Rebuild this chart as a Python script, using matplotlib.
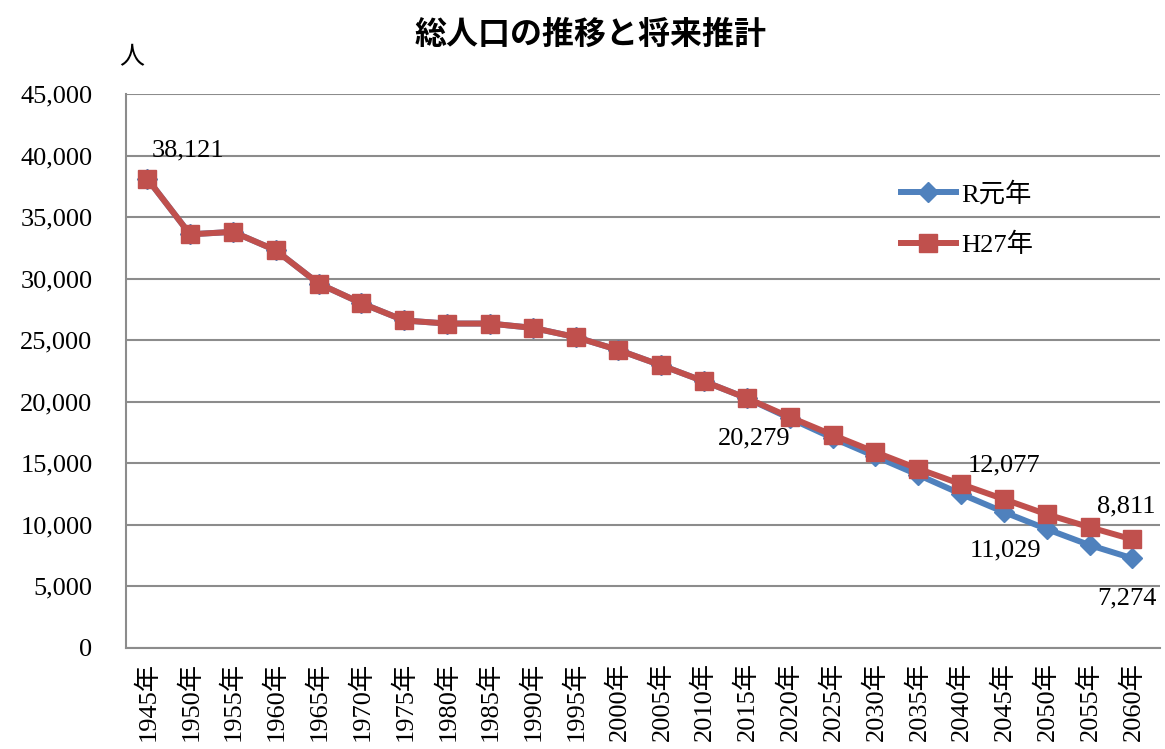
import numpy as np
import matplotlib.pyplot as plt

# data
years = ['1945', '1950', '1955', '1960', '1965', '1970', '1975', '1980',
         '1985', '1990', '1995', '2000', '2005', '2010', '2015', '2020',
         '2025', '2030', '2035', '2040', '2045', '2050', '2055', '2060']
h27 = [38121, 33600, 33800, 32300, 29600, 28000, 26600, 26350,
       26350, 26000, 25250, 24200, 22950, 21650, 20279, 18750,
       17300, 15900, 14550, 13300, 12077, 10850, 9800, 8811]
r1 = [38121, 33600, 33800, 32300, 29600, 28000, 26600, 26350,
      26350, 26000, 25250, 24200, 22950, 21650, 20279, 18650,
      17050, 15550, 14050, 12500, 11029, 9650, 8350, 7274]
yticks = [0, 5000, 10000, 15000, 20000, 25000, 30000, 35000, 40000, 45000]

serif = ['Liberation Serif', 'Noto Sans CJK JP']
cjk = ['Noto Sans CJK JP', 'DejaVu Sans']
fs = 19

fig = plt.figure(figsize=(11.65, 7.49), dpi=100)
ax = fig.add_axes([0.108, 0.135, 0.888, 0.7395])

x = np.arange(len(years))
blue = '#4F81BD'
red = '#C0504D'
ax.plot(x, r1, color=blue, lw=4.3, marker='D', ms=10, label='R元年', zorder=3)
ax.plot(x, h27, color=red, lw=4.3, marker='s', ms=12.5, label='H27年', zorder=4)

ax.set_xlim(-0.5, len(years) - 0.35)
ax.set_ylim(0, 45000)
ax.set_yticks(yticks)
ax.set_yticklabels([f'{v:,}' for v in yticks], family=serif, fontsize=fs)
ax.set_xticks(x)
ax.set_xticklabels([y + '年' for y in years], rotation=90, family=serif, fontsize=fs)
ax.tick_params(axis='y', length=0, pad=24)
ax.tick_params(axis='x', length=0, pad=10)

ax.grid(axis='y', color='#8c8c8c', lw=1.5)
ax.set_axisbelow(True)
for s in ['top', 'right']:
    ax.spines[s].set_visible(False)
for s in ['left', 'bottom']:
    ax.spines[s].set_color('#8c8c8c')
    ax.spines[s].set_linewidth(1.5)

# data labels
def lab(i, v, dx, dy):
    ax.annotate(f'{v:,}', (x[i], v), xytext=(dx, dy), textcoords='offset pixels',
                ha='center', va='center', family=serif, fontsize=fs, zorder=5)

lab(0, h27[0], 41, 28)
lab(14, h27[14], 7, -40)
lab(20, h27[20], 0, 34)
lab(20, r1[20], 2, -38)
lab(23, h27[23], -6, 33)
lab(23, r1[23], -6, -40)

leg = ax.legend(loc='upper left', bbox_to_anchor=(0.726, 0.885), frameon=False,
                handlelength=2.1, labelspacing=1.0, handletextpad=0.2,
                prop={'family': serif, 'size': fs})

fig.text(0.507, 0.953, '総人口の推移と将来推計', ha='center', va='center',
         family=cjk, fontsize=23, fontweight='bold')
fig.text(0.113, 0.924, '人', ha='center', va='center', family=cjk, fontsize=18)

fig.savefig('out.png', dpi=100)
